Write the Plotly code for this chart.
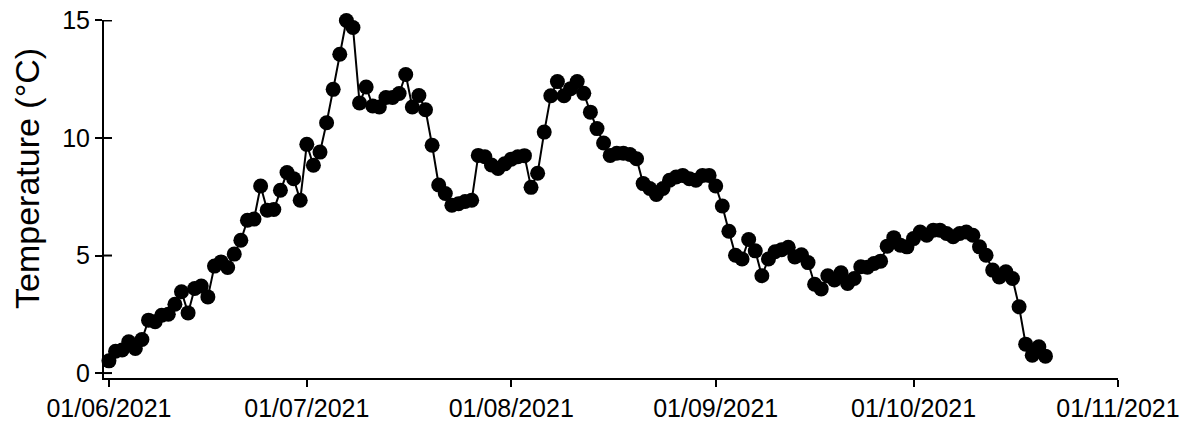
import pandas as pd
import plotly.graph_objects as go

start_date = "2021-06-01"
temperature = [
    0.52, 0.93, 0.98, 1.33, 1.05, 1.43, 2.25, 2.18, 2.46, 2.50,
    2.93, 3.46, 2.56, 3.60, 3.70, 3.24, 4.55, 4.73, 4.49, 5.06,
    5.65, 6.50, 6.55, 7.96, 6.93, 6.96, 7.78, 8.53, 8.27, 7.35,
    9.73, 8.84, 9.40, 10.65, 12.07, 13.56, 15.00, 14.70, 11.49, 12.17,
    11.36, 11.32, 11.72, 11.72, 11.89, 12.70, 11.32, 11.81, 11.20, 9.69,
    8.00, 7.64, 7.14, 7.20, 7.30, 7.35, 9.26, 9.20, 8.85, 8.70,
    8.90, 9.10, 9.20, 9.25, 7.90, 8.50, 10.25, 11.80, 12.40, 11.80,
    12.10, 12.40, 11.90, 11.10, 10.40, 9.79, 9.26, 9.35, 9.35, 9.30,
    9.12, 8.06, 7.85, 7.60, 7.85, 8.20, 8.34, 8.41, 8.27, 8.20,
    8.41, 8.41, 7.96, 7.11, 6.03, 5.01, 4.85, 5.68, 5.20, 4.14,
    4.85, 5.16, 5.25, 5.35, 4.94, 5.03, 4.70, 3.78, 3.58, 4.14,
    3.96, 4.27, 3.81, 4.02, 4.52, 4.50, 4.66, 4.76, 5.40, 5.76,
    5.44, 5.37, 5.72, 6.00, 5.86, 6.08, 6.08, 5.94, 5.80, 5.94,
    6.00, 5.86, 5.37, 5.01, 4.38, 4.09, 4.31, 4.02, 2.82, 1.23,
    0.76, 1.12, 0.72,
]
dates = pd.date_range(start_date, periods=len(temperature), freq="D")

x_tick_dates = ["2021-06-01", "2021-07-01", "2021-08-01", "2021-09-01", "2021-10-01", "2021-11-01"]
x_tick_labels = ["01/06/2021", "01/07/2021", "01/08/2021", "01/09/2021", "01/10/2021", "01/11/2021"]
y_ticks = [0, 5, 10, 15]
y_title = "Temperature (°C)"

FONT = "Liberation Sans, Arial, sans-serif"

fig = go.Figure()
fig.add_trace(go.Scatter(
    x=dates, y=temperature, mode="lines+markers",
    line=dict(color="black", width=2),
    marker=dict(color="black", size=15),
    cliponaxis=False,
    showlegend=False,
))

fig.add_annotation(
    text=y_title, textangle=-90, xref="paper", yref="paper",
    x=-0.0759, y=0.556, xanchor="center", yanchor="middle",
    showarrow=False, font=dict(size=34, family=FONT, color="black"),
)

# inner half of the crossing y ticks
for v in y_ticks:
    fig.add_shape(type="line", xref="paper", yref="y",
                  x0=0, x1=8 / 1014, y0=v, y1=v,
                  line=dict(color="black", width=2))

fig.update_layout(
    width=1181, height=432,
    margin=dict(l=104, r=63, t=20, b=54),
    plot_bgcolor="white", paper_bgcolor="white",
    font=dict(family=FONT, size=25, color="black"),
    xaxis=dict(
        type="date",
        range=["2021-05-31 06:00", "2021-11-01"],
        tickvals=x_tick_dates, ticktext=x_tick_labels,
        ticks="outside", ticklen=7, tickwidth=2, tickcolor="black",
        showline=True, linecolor="black", linewidth=2,
        showgrid=False, zeroline=False, automargin=False,
        ticklabeloverflow="allow",
        tickfont=dict(size=25),
    ),
    yaxis=dict(
        range=[-0.21, 15.02],
        tickvals=y_ticks,
        ticks="outside", ticklen=7, tickwidth=2, tickcolor="black",
        showline=True, linecolor="black", linewidth=2,
        showgrid=False, zeroline=False, automargin=False,
        ticklabeloverflow="allow",
        tickfont=dict(size=25),
    ),
)

fig.write_html(
    "out.html",
    config={"displayModeBar": False},
    post_script="document.body.style.margin='0';document.body.style.overflow='hidden';",
)
